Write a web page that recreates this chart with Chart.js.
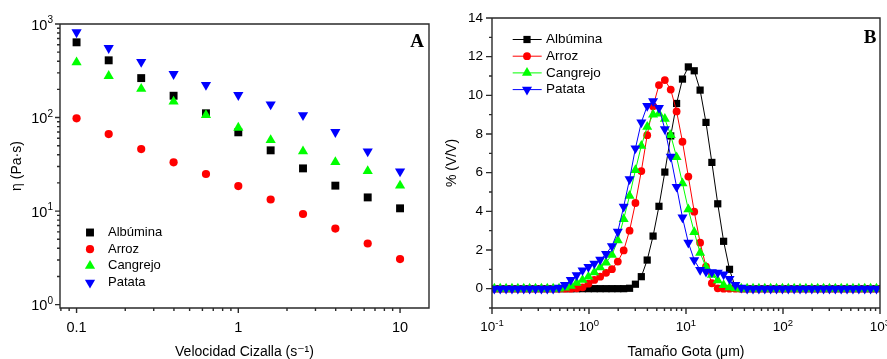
<!DOCTYPE html>
<html>
<head>
<meta charset="utf-8">
<script src="https://cdn.jsdelivr.net/npm/chart.js@4.4.0/dist/chart.umd.min.js"></script>
<style>
  html, body { margin: 0; padding: 0; background: #fff; }
  #wrap { position: relative; width: 887px; height: 359px; overflow: hidden; }
  #chartA { position: absolute; left: 0; top: 0; }
  #chartB { position: absolute; left: 440px; top: 0; }
</style>
</head>
<body>
<div id="wrap">
  <canvas id="chartA" width="440" height="359"></canvas>
  <canvas id="chartB" width="447" height="359"></canvas>
</div>
<script>
// ---- panel A: viscosity vs shear rate ----
let shearRate = [0.1, 0.158, 0.251, 0.398, 0.631, 1, 1.585, 2.512, 3.981, 6.31, 10];
let viscAlbumina = [637, 409, 264, 171, 111, 69.5, 44.6, 28.6, 18.7, 14.0, 10.7];
let viscArroz = [98, 66.6, 46, 33.2, 24.9, 18.5, 13.3, 9.3, 6.5, 4.5, 3.07];
let viscCangrejo = [389, 278, 203, 148, 106, 77.8, 57.4, 43.5, 33.4, 26.8, 18.7];
let viscPatata = [815, 553, 393, 292, 223, 174, 138, 106, 70, 43.5, 26.6];

// ---- panel B: droplet size distribution ----
let dropSize = [
  0.1057, 0.1216, 0.1398, 0.1607, 0.1848, 0.2125, 0.2443, 0.2809, 0.3229, 0.3713,
  0.4269, 0.4908, 0.5643, 0.6488, 0.7460, 0.8577, 0.9861, 1.134, 1.304, 1.499,
  1.723, 1.981, 2.278, 2.619, 3.011, 3.463, 3.981, 4.577, 5.263, 6.051,
  6.957, 7.999, 9.197, 10.57, 12.16, 13.98, 16.07, 18.48, 21.25, 24.43,
  28.09, 32.29, 37.13, 42.69, 49.08, 56.43, 64.88, 74.60, 85.77, 98.61,
  113.4, 130.4, 149.9, 172.3, 198.1, 227.8, 261.9, 301.1, 346.3, 398.1,
  457.7, 526.3, 605.1, 695.7, 799.9, 919.7
];
let volAlbumina = [
  0, 0, 0, 0, 0, 0, 0, 0, 0, 0,
  0, 0, 0, 0, 0, 0, 0, 0, 0, 0,
  0, 0, 0, 0.02, 0.23, 0.62, 1.48, 2.72, 4.26, 6.03,
  7.9, 9.58, 10.84, 11.47, 11.27, 10.27, 8.6, 6.53, 4.39, 2.45,
  1.0, 0.05, 0, 0, 0, 0, 0, 0, 0, 0,
  0, 0, 0, 0, 0, 0, 0, 0, 0, 0,
  0, 0, 0, 0, 0, 0
];
let volArroz = [
  0, 0, 0, 0, 0, 0, 0, 0, 0, 0,
  0, 0, 0, 0, 0.02, 0.07, 0.26, 0.45, 0.62, 0.82,
  1.01, 1.4, 1.98, 3.0, 4.43, 6.08, 7.94, 9.44, 10.53, 10.79,
  10.3, 9.17, 7.6, 5.8, 3.98, 2.38, 1.14, 0.28, 0.02, 0,
  0, 0, 0, 0, 0, 0, 0, 0, 0, 0,
  0, 0, 0, 0, 0, 0, 0, 0, 0, 0,
  0, 0, 0, 0, 0, 0
];
let volCangrejo = [
  0, 0, 0, 0, 0, 0, 0, 0, 0, 0,
  0, 0, 0.05, 0.15, 0.3, 0.45, 0.62, 0.85, 1.1, 1.35,
  1.75, 2.5, 3.6, 4.8, 6.13, 7.39, 8.37, 9.0, 9.05, 8.78,
  7.94, 6.8, 5.45, 4.1, 2.93, 1.85, 1.12, 0.71, 0.43, 0.19,
  0.07, 0.02, 0, 0, 0, 0, 0, 0, 0, 0,
  0, 0, 0, 0, 0, 0, 0, 0, 0, 0,
  0, 0, 0, 0, 0, 0
];
let volPatata = [
  0, 0, 0, 0, 0, 0, 0, 0, 0, 0,
  0, 0.05, 0.2, 0.45, 0.7, 0.95, 1.12, 1.3, 1.5, 1.8,
  2.2, 2.95, 4.24, 5.66, 7.26, 8.6, 9.45, 9.7, 9.35, 8.25,
  6.83, 5.27, 3.68, 2.38, 1.48, 0.97, 0.88, 0.85, 0.83, 0.74,
  0.5, 0.19, 0.05, 0, 0, 0, 0, 0, 0, 0,
  0, 0, 0, 0, 0, 0, 0, 0, 0, 0,
  0, 0, 0, 0, 0, 0
];

let seriesNames = ['Albúmina', 'Arroz', 'Cangrejo', 'Patata'];
let seriesColors = ['#000000', '#ff0000', '#00ff00', '#0000ff'];

const FONT = '"Liberation Sans", Arial, "DejaVu Sans", sans-serif';
Chart.defaults.font.family = FONT;
Chart.defaults.color = '#000';

function points(xs, ys) {
  return xs.map((x, i) => ({ x: x, y: ys[i] }));
}

// little marker for the hand placed legends
function marker(ctx, style, x, y, r, rot) {
  ctx.beginPath();
  if (style === 'rect') {
    let s = r * Math.SQRT1_2;
    ctx.rect(x - s, y - s, 2 * s, 2 * s);
  } else if (style === 'circle') {
    ctx.arc(x, y, r, 0, Math.PI * 2);
  } else {
    let d = rot ? -1 : 1;
    ctx.moveTo(x, y - d * r);
    ctx.lineTo(x + r * 0.866, y + d * r / 2);
    ctx.lineTo(x - r * 0.866, y + d * r / 2);
    ctx.closePath();
  }
  ctx.fill();
}

// "10" with a raised exponent, like the Origin labels
function powLabel(ctx, e, x, baseY, align, size, supSize) {
  ctx.font = size + 'px ' + FONT;
  let wb = ctx.measureText('10').width;
  ctx.font = supSize + 'px ' + FONT;
  let es = String(e);
  let we = ctx.measureText(es).width;
  let x0 = align === 'right' ? x - wb - we : x - (wb + we) / 2;
  ctx.textAlign = 'left';
  ctx.textBaseline = 'alphabetic';
  ctx.font = size + 'px ' + FONT;
  ctx.fillText('10', x0, baseY);
  ctx.font = supSize + 'px ' + FONT;
  ctx.fillText(es, x0 + wb, baseY - size * 0.42);
}

// frame, tick marks, power labels, panel letter and legend
const decor = {
  id: 'decor',
  afterDraw(chart, args, o) {
    const ctx = chart.ctx, a = chart.chartArea;
    ctx.save();
    ctx.strokeStyle = '#2a2a2a';
    ctx.lineWidth = 1.4;
    ctx.beginPath();
    ctx.rect(a.left, a.top, a.right - a.left, a.bottom - a.top);
    ['x', 'y'].forEach(id => {
      const sc = chart.scales[id];
      let marks = [];
      if (sc.type === 'logarithmic') {
        for (let e = Math.floor(Math.log10(sc.min)); e <= Math.ceil(Math.log10(sc.max)); e++) {
          for (let m = 1; m <= 9; m++) {
            let v = m * Math.pow(10, e);
            if (v >= sc.min * 0.9999 && v <= sc.max * 1.0001) marks.push({ v: v, major: m === 1 });
          }
        }
      } else {
        for (let v = Math.ceil(sc.min); v <= sc.max; v++) marks.push({ v: v, major: v % 2 === 0 });
      }
      marks.forEach(t => {
        let p = sc.getPixelForValue(t.v);
        let len = t.major ? o.major : o.minor;
        if (id === 'x') {
          ctx.moveTo(p, a.bottom);
          ctx.lineTo(p, a.bottom + len);
        } else {
          ctx.moveTo(a.left, p);
          ctx.lineTo(a.left - len, p);
        }
      });
    });
    ctx.stroke();

    ctx.fillStyle = '#000';
    const pl = o.pow;
    const sc = chart.scales[pl.axis];
    for (let e = Math.ceil(Math.log10(sc.min) - 1e-9); e <= Math.floor(Math.log10(sc.max) + 1e-9); e++) {
      let p = sc.getPixelForValue(Math.pow(10, e));
      if (pl.axis === 'y') powLabel(ctx, e, a.left - pl.gap, p + pl.shift, 'right', pl.size, pl.supSize);
      else powLabel(ctx, e, p, a.bottom + pl.gap, 'center', pl.size, pl.supSize);
    }

    ctx.font = 'bold 19px "Liberation Serif", "Times New Roman", serif';
    ctx.textAlign = 'center';
    ctx.textBaseline = 'middle';
    ctx.fillText(o.letter, o.letterX, o.letterY);

    const lg = o.legend;
    ctx.font = lg.size + 'px ' + FONT;
    ctx.textAlign = 'left';
    ctx.textBaseline = 'middle';
    chart.data.datasets.forEach((ds, i) => {
      let y = lg.y + i * lg.dy;
      if (lg.line) {
        ctx.strokeStyle = ds.borderColor;
        ctx.lineWidth = 1;
        ctx.beginPath();
        ctx.moveTo(lg.lineX0, y);
        ctx.lineTo(lg.lineX1, y);
        ctx.stroke();
      }
      ctx.fillStyle = ds.pointBackgroundColor;
      marker(ctx, ds.pointStyle, lg.markX, y, ds.pointRadius, ds.pointRotation);
      ctx.fillStyle = '#000';
      ctx.fillText(ds.label, lg.textX, y);
    });
    ctx.restore();
  }
};

function makeDataset(i, xs, ys, radii, line) {
  let styles = ['rect', 'circle', 'triangle', 'triangle'];
  return {
    label: seriesNames[i],
    data: points(xs, ys),
    showLine: line,
    borderColor: seriesColors[i],
    borderWidth: 1,
    backgroundColor: seriesColors[i],
    pointBackgroundColor: seriesColors[i],
    pointBorderColor: seriesColors[i],
    pointBorderWidth: 0,
    pointStyle: styles[i],
    pointRotation: i === 3 ? 180 : 0,
    pointRadius: radii[i],
    order: 3 - i
  };
}

let radiiA = [5.6, 4.1, 5.9, 5.9];
let radiiB = [5.1, 3.9, 5.8, 5.8];

let chartA = new Chart(document.getElementById('chartA'), {
  type: 'scatter',
  data: {
    datasets: [
      makeDataset(0, shearRate, viscAlbumina, radiiA, false),
      makeDataset(1, shearRate, viscArroz, radiiA, false),
      makeDataset(2, shearRate, viscCangrejo, radiiA, false),
      makeDataset(3, shearRate, viscPatata, radiiA, false)
    ]
  },
  options: {
    responsive: false,
    animation: false,
    devicePixelRatio: 1,
    layout: { padding: { top: 24, right: 10, left: 0, bottom: 0 }, autoPadding: false },
    plugins: {
      legend: { display: false },
      tooltip: { enabled: false },
      decor: {
        major: 5, minor: 3,
        pow: { axis: 'y', gap: 7, shift: 5.5, size: 14.5, supSize: 10 },
        letter: 'A', letterX: 417, letterY: 42,
        legend: { y: 232.5, dy: 16.7, markX: 90, textX: 108, size: 13, line: false }
      }
    },
    scales: {
      x: {
        type: 'logarithmic',
        min: 0.079, max: 15.1,
        afterFit: s => { s.height = 51; },
        grid: { display: false, drawTicks: false },
        border: { display: false },
        ticks: {
          autoSkip: false, maxRotation: 0, minRotation: 0, padding: 11,
          font: { size: 14.5 },
          callback: v => {
            let l = Math.log10(v);
            return Math.abs(l - Math.round(l)) < 1e-6 ? String(Number(v.toPrecision(3))) : '';
          }
        },
        title: { display: true, text: 'Velocidad Cizalla (s⁻¹)', font: { size: 14, lineHeight: 1 }, padding: 0 }
      },
      y: {
        type: 'logarithmic',
        min: 0.92, max: 1000,
        afterFit: s => { s.width = 60; },
        grid: { display: false, drawTicks: false },
        border: { display: false },
        ticks: { display: false },
        title: { display: true, text: 'η (Pa·s)', font: { size: 14, lineHeight: 1 }, padding: { top: 10, bottom: 0 } }
      }
    }
  },
  plugins: [decor]
});

let chartB = new Chart(document.getElementById('chartB'), {
  type: 'scatter',
  data: {
    datasets: [
      makeDataset(0, dropSize, volAlbumina, radiiB, true),
      makeDataset(1, dropSize, volArroz, radiiB, true),
      makeDataset(2, dropSize, volCangrejo, radiiB, true),
      makeDataset(3, dropSize, volPatata, radiiB, true)
    ]
  },
  options: {
    responsive: false,
    animation: false,
    devicePixelRatio: 1,
    layout: { padding: { top: 18, right: 7, left: 0, bottom: 0 }, autoPadding: false },
    plugins: {
      legend: { display: false },
      tooltip: { enabled: false },
      decor: {
        major: 6, minor: 3,
        pow: { axis: 'x', gap: 23.3, size: 13.5, supSize: 9.5 },
        letter: 'B', letterX: 430, letterY: 38,
        legend: { y: 39.5, dy: 16.7, markX: 87, lineX0: 72.7, lineX1: 101.7, textX: 106, size: 13.5, line: true }
      }
    },
    scales: {
      x: {
        type: 'logarithmic',
        min: 0.1, max: 1000,
        afterFit: s => { s.height = 51; },
        grid: { display: false, drawTicks: false },
        border: { display: false },
        ticks: { display: false },
        title: { display: true, text: 'Tamaño Gota (μm)', font: { size: 14, lineHeight: 1 }, padding: 0 }
      },
      y: {
        type: 'linear',
        min: -1, max: 14,
        afterFit: s => { s.width = 52; },
        grid: { display: false, drawTicks: false },
        border: { display: false },
        ticks: {
          autoSkip: false, stepSize: 1, padding: 9,
          font: { size: 13.5 },
          callback: v => (v >= 0 && v % 2 === 0) ? String(v) : ''
        },
        title: { display: true, text: '% (V/V)', font: { size: 14, lineHeight: 1 }, padding: { top: 5, bottom: 0 } }
      }
    }
  },
  plugins: [decor]
});
</script>
</body>
</html>
